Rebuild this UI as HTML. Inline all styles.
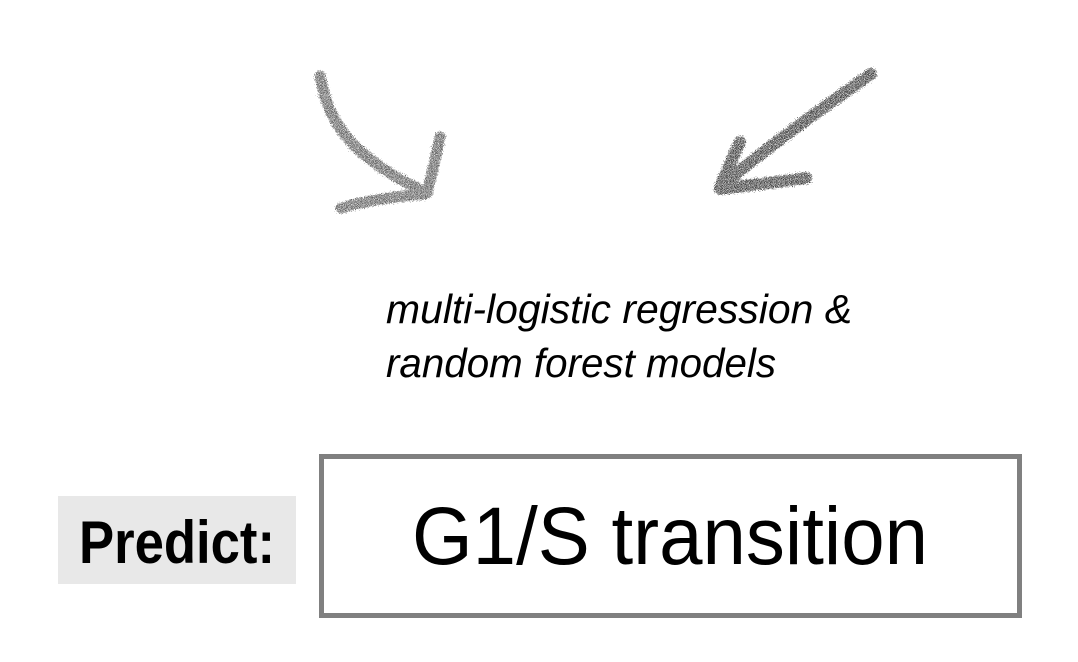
<!DOCTYPE html>
<html>
<head>
<meta charset="utf-8">
<style>
  html, body { margin:0; padding:0; background:#ffffff; }
  body { width:1078px; height:662px; overflow:hidden; }
  svg { display:block; }
</style>
</head>
<body>
<svg width="1078" height="662" viewBox="0 0 1078 662" xmlns="http://www.w3.org/2000/svg">
  <defs>
    <filter id="pencil" x="-10%" y="-10%" width="120%" height="120%">
      <feTurbulence type="fractalNoise" baseFrequency="0.9" numOctaves="2" seed="3" result="noise"/>
      <feDisplacementMap in="SourceGraphic" in2="noise" scale="7" xChannelSelector="R" yChannelSelector="G" result="disp"/>
      <feTurbulence type="fractalNoise" baseFrequency="1.8" numOctaves="1" seed="7" result="grain"/>
      <feColorMatrix in="grain" type="matrix" values="0 0 0 0 0  0 0 0 0 0  0 0 0 0 0  0 0 0 -4 2.7" result="grainA"/>
      <feComposite in="disp" in2="grainA" operator="in"/>
    </filter>
  </defs>

  <!-- Left curved arrow -->
  <g filter="url(#pencil)" fill="none" stroke="#3c3c3c" stroke-linecap="round" stroke-linejoin="round" stroke-width="11" opacity="0.85">
    <path d="M320,76 C326,110 340,135 365,155 C385,172 405,182 424,192"/>
    <path d="M440,137 C436,155 432,175 427,193"/>
    <path d="M341,208 C368,200 395,197 424,194"/>
  </g>

  <!-- Right straight arrow -->
  <g filter="url(#pencil)" fill="none" stroke="#2e2e2e" stroke-linecap="round" stroke-linejoin="round" stroke-width="12" opacity="0.95">
    <path d="M871,74 C820,110 770,145 720,187"/>
    <path d="M740,142 C733,158 726,172 720,188"/>
    <path d="M806,178 C780,182 750,185 720,189"/>
  </g>

  <!-- Italic caption -->
  <text x="386" y="323" font-family="'Liberation Sans', sans-serif" font-style="italic" font-size="41" fill="#000" textLength="466" lengthAdjust="spacingAndGlyphs">multi-logistic regression &amp;</text>
  <text x="386" y="377" font-family="'Liberation Sans', sans-serif" font-style="italic" font-size="41" fill="#000" textLength="390" lengthAdjust="spacingAndGlyphs">random forest models</text>

  <!-- Predict label -->
  <rect x="58" y="496" width="238" height="88" fill="#e8e8e8"/>
  <text x="79" y="563" font-family="'Liberation Sans', sans-serif" font-weight="bold" font-size="60" fill="#000" textLength="196" lengthAdjust="spacingAndGlyphs">Predict:</text>

  <!-- Main box -->
  <rect x="321.5" y="456.5" width="698" height="159" fill="#ffffff" stroke="#808080" stroke-width="5"/>
  <text x="412" y="564" font-family="'Liberation Sans', sans-serif" font-size="82" fill="#000" textLength="516" lengthAdjust="spacingAndGlyphs">G1/S transition</text>
</svg>
</body>
</html>
